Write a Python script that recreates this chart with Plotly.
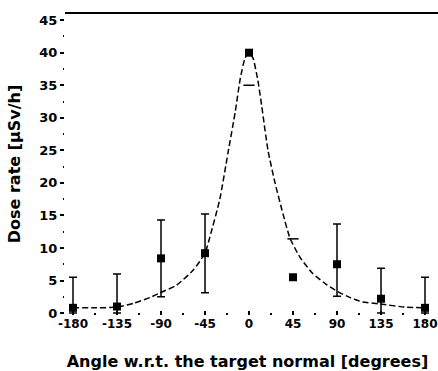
import plotly.graph_objects as go

# Measured dose rate points
angles = [-180, -135, -90, -45, 0, 45, 90, 135, 180]
dose = [0.8, 1.0, 8.4, 9.2, 40.0, 5.5, 7.5, 2.2, 0.8]
err_plus = [4.7, 5.0, 5.9, 6.0, 0.0, 0.0, 6.2, 4.7, 4.7]
err_minus = [0.8, 1.0, 5.9, 6.1, 0.0, 0.0, 4.9, 2.2, 0.8]

# Isolated error-bar caps visible in the reference
cap_x = [0, 45]
cap_y = [35.0, 11.4]

# Fitted (dashed) curve
curve_x = [-180, -160, -135, -118, -101, -91, -74, -57, -45, -40, -30, -21.5, -14, -9, -4, 0,
           4, 9, 13, 19.4, 26.6, 34.8, 41.9, 52, 65, 80, 93, 103, 116, 134, 160, 180]
curve_y = [0.8, 0.8, 0.9, 1.5, 2.4, 3.1, 4.3, 6.6, 9.2, 11.7, 17.4, 24.6, 31.0, 36.0, 39.2, 40.0,
           39.2, 35.8, 31.8, 25.0, 20.0, 15.2, 11.5, 8.6, 6.1, 4.3, 3.1, 2.4, 1.7, 1.4, 0.9, 0.8]

x_ticks = [-180, -135, -90, -45, 0, 45, 90, 135, 180]
x_minor = [-157.5, -112.5, -67.5, -22.5, 22.5, 67.5, 112.5, 157.5]
y_ticks = [0, 5, 10, 15, 20, 25, 30, 35, 40, 45]

FONT = "DejaVu Sans"

fig = go.Figure()
fig.add_trace(go.Scatter(
    x=curve_x, y=curve_y, mode="lines",
    line=dict(color="black", width=1.5, dash="6px,3px", shape="spline", smoothing=0.5),
    hoverinfo="skip", showlegend=False))
fig.add_trace(go.Scatter(
    x=angles, y=dose, mode="markers",
    marker=dict(symbol="square", size=8, color="black"),
    error_y=dict(type="data", symmetric=False, array=err_plus, arrayminus=err_minus,
                 color="black", thickness=1.5, width=4),
    cliponaxis=False, showlegend=False))
fig.add_trace(go.Scatter(
    x=cap_x, y=cap_y, mode="markers",
    marker=dict(symbol="line-ew", size=8, line=dict(color="black", width=1.5)),
    showlegend=False, hoverinfo="skip"))

fig.update_layout(
    width=438, height=371,
    margin=dict(l=65, r=8, t=13, b=56),
    paper_bgcolor="white", plot_bgcolor="white",
    font=dict(family=FONT, color="black"),
    shapes=[dict(type="line", xref="paper", yref="paper", x0=0, x1=1.03, y0=1, y1=1,
                 line=dict(color="black", width=2))],
    xaxis=dict(
        range=[-188.2, 185.1], tickvals=x_ticks, ticktext=[str(v) for v in x_ticks],
        showgrid=False, zeroline=False, showline=False, automargin=False,
        ticks="inside", ticklen=4, tickwidth=1.5, tickcolor="black",
        minor=dict(tickvals=x_minor, ticks="inside", ticklen=2, tickwidth=1.5,
                   tickcolor="black"),
        tickfont=dict(family=FONT, size=12, weight="bold"),
        ticklabelstandoff=0, ticklabeloverflow="allow",
        title=dict(text="Angle w.r.t. the target normal [degrees]",
                   font=dict(family=FONT, size=16, weight="bold"), standoff=25),
    ),
    yaxis=dict(
        range=[-0.3, 46.1], tickvals=y_ticks, ticktext=[str(v) for v in y_ticks],
        showgrid=False, zeroline=False, showline=False, automargin=False,
        ticks="outside", ticklen=4, tickwidth=1.5, tickcolor="black",
        minor=dict(dtick=2.5, ticks="outside", ticklen=1, tickwidth=1.5, tickcolor="black"),
        tickfont=dict(family=FONT, size=13, weight="bold"),
        title=dict(text="Dose rate [µSv/h]",
                   font=dict(family=FONT, size=16, weight="bold"), standoff=14),
    ),
)

# remove the page's default body margin so the figure fills the window exactly
fig.write_html("out.html",
               config={"displayModeBar": False},
               post_script="document.body.style.margin='0';"
                           "document.body.style.overflow='hidden';")
